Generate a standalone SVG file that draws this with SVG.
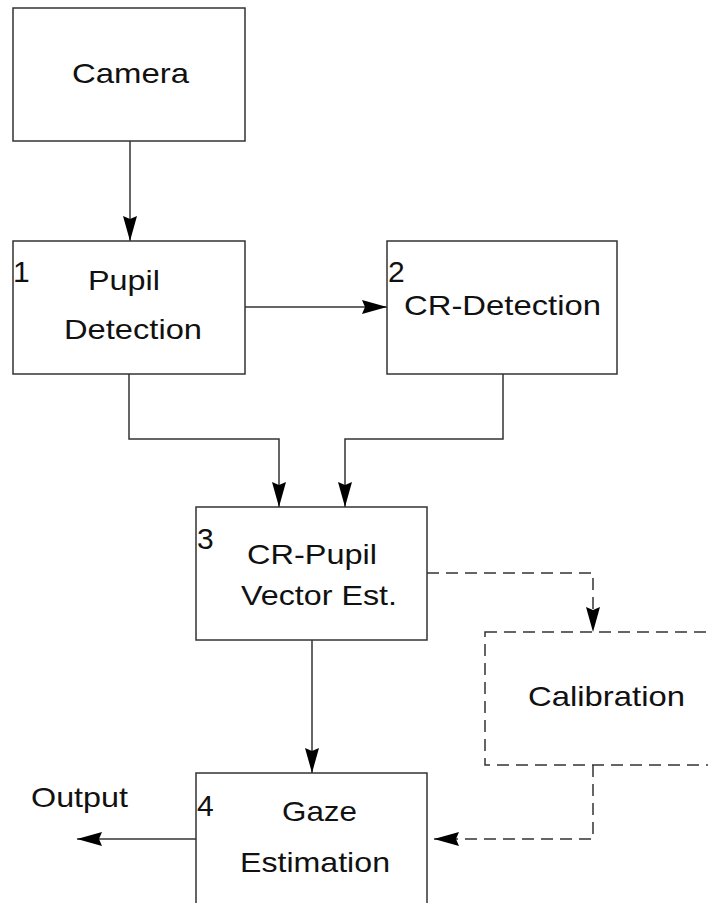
<svg xmlns="http://www.w3.org/2000/svg" width="708" height="903" viewBox="0 0 708 903">
<style>
.box{fill:#fff;stroke:#333;stroke-width:1.5}
.dbox{fill:#fff;stroke:#333;stroke-width:1.5;stroke-dasharray:12 7}
.ln{fill:none;stroke:#333;stroke-width:1.5}
.dln{fill:none;stroke:#333;stroke-width:1.5;stroke-dasharray:12 7}
.t{font-family:"Liberation Sans",Arial,sans-serif;font-size:28px;fill:#111}
.n{font-family:"Liberation Sans",Arial,sans-serif;font-size:30px;fill:#111}
</style>
<defs>
<marker id="ah" viewBox="0 0 25 14" refX="25" refY="7" markerWidth="25" markerHeight="14" markerUnits="userSpaceOnUse" orient="auto">
<path d="M0,0 L25,7 L0,14 L3,7 Z" fill="#000"/>
</marker>
</defs>
<g id="connectors">
<path class="ln" d="M130,141 V241" marker-end="url(#ah)"/>
<path class="ln" d="M245,307 H387" marker-end="url(#ah)"/>
<path class="ln" d="M129,374 V439 H279 V507" marker-end="url(#ah)"/>
<path class="ln" d="M503,374 V439 H345 V507" marker-end="url(#ah)"/>
<path class="ln" d="M312,640 V773" marker-end="url(#ah)"/>
<path class="ln" d="M196,839 H77" marker-end="url(#ah)"/>
<path class="dln" d="M427,573 H593 V632" marker-end="url(#ah)"/>
<path class="dln" d="M593,765 V839 H434" marker-end="url(#ah)"/>
</g>
<g id="camera">
<rect class="box" x="13" y="8" width="232" height="133"/>
<text class="t" x="72" y="83" textLength="117" lengthAdjust="spacingAndGlyphs">Camera</text>
</g>
<g id="pupil">
<rect class="box" x="13" y="241" width="232" height="133"/>
<text class="n" x="13" y="282">1</text>
<text class="t" x="88" y="290" textLength="72" lengthAdjust="spacingAndGlyphs">Pupil</text>
<text class="t" x="64" y="339" textLength="138" lengthAdjust="spacingAndGlyphs">Detection</text>
</g>
<g id="cr">
<rect class="box" x="387" y="241" width="230" height="133"/>
<text class="n" x="388" y="282">2</text>
<text class="t" x="404" y="315" textLength="197" lengthAdjust="spacingAndGlyphs">CR-Detection</text>
</g>
<g id="vector">
<rect class="box" x="196" y="507" width="231" height="133"/>
<text class="n" x="197" y="549">3</text>
<text class="t" x="247" y="564" textLength="130" lengthAdjust="spacingAndGlyphs">CR-Pupil</text>
<text class="t" x="241" y="605" textLength="156" lengthAdjust="spacingAndGlyphs">Vector Est.</text>
</g>
<g id="calibration">
<rect class="dbox" x="485" y="632" width="240" height="133"/>
<text class="t" x="528" y="706" textLength="157" lengthAdjust="spacingAndGlyphs">Calibration</text>
</g>
<g id="gaze">
<rect class="box" x="196" y="773" width="231" height="140"/>
<text class="n" x="197" y="816">4</text>
<text class="t" x="282" y="821" textLength="75" lengthAdjust="spacingAndGlyphs">Gaze</text>
<text class="t" x="240" y="872" textLength="150" lengthAdjust="spacingAndGlyphs">Estimation</text>
</g>
<g id="output">
<text class="t" x="31" y="807" textLength="97" lengthAdjust="spacingAndGlyphs">Output</text>
</g>
</svg>
